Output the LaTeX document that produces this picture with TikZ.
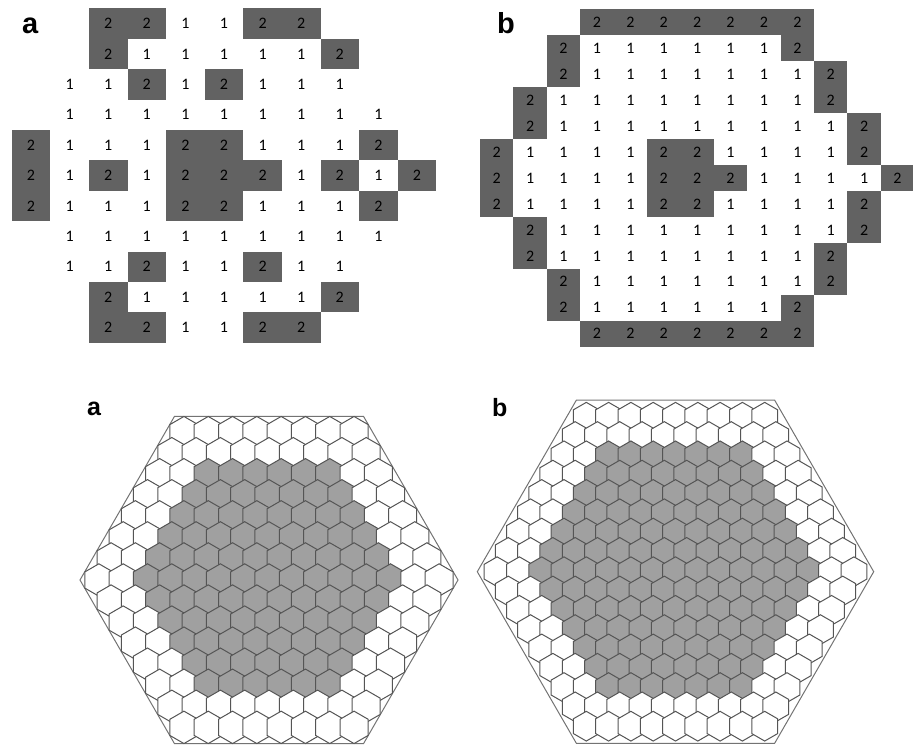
\documentclass[tikz,border=0pt]{standalone}
\usepackage{fontspec}
\setmainfont{Carlito}
\newfontfamily\panelfont{Liberation Sans}
\usetikzlibrary{shapes.geometric,calc}
\definecolor{cellgrey}{RGB}{98,98,98}
\definecolor{hexgrey}{RGB}{160,160,160}
\definecolor{hexline}{RGB}{85,85,85}
\definecolor{rimline}{RGB}{115,115,115}

\begin{document}
\begin{tikzpicture}[x=1pt,y=-1pt,
  c/.style={inner sep=0pt,minimum width=38.6pt,minimum height=30.4pt,font=\fontsize{16}{16}\selectfont},
  cb/.style={c,minimum width=33.4pt,minimum height=25.95pt},
  dk/.style={fill=cellgrey},
  hx/.style={regular polygon,regular polygon sides=6,shape border rotate=30,draw=hexline,line width=1pt,inner sep=0pt},
  rim/.style={regular polygon,regular polygon sides=6,draw=rimline,line width=1pt,inner sep=0pt},
  lab/.style={font=\panelfont\bfseries\fontsize{29}{29}\selectfont,anchor=base west,inner sep=0pt},
  labs/.style={lab,font=\panelfont\bfseries\fontsize{25}{25}\selectfont}]
\useasboundingbox (0,0) rectangle (913,747);
\node[lab] (ta) at (22,33) {a};
\node[lab] (tb) at (497,33) {b};
\foreach \row [count=\i from 0] in {
  {0,0,2,2,1,1,2,2,0,0,0},{0,0,2,1,1,1,1,1,2,0,0},{0,1,1,2,1,2,1,1,1,0,0},
  {0,1,1,1,1,1,1,1,1,1,0},{2,1,1,1,2,2,1,1,1,2,0},{2,1,2,1,2,2,2,1,2,1,2},
  {2,1,1,1,2,2,1,1,1,2,0},{0,1,1,1,1,1,1,1,1,1,0},{0,1,1,2,1,1,2,1,1,0,0},
  {0,0,2,1,1,1,1,1,2,0,0},{0,0,2,2,1,1,2,2,0,0,0}}
  \foreach \v [count=\j from 0] in \row {
    \ifnum\v=2 \node[c,dk] (ga\i-\j) at (31+38.6*\j,23.5+30.4*\i) {2};\fi
    \ifnum\v=1 \node[c] (ga\i-\j) at (31+38.6*\j,23.5+30.4*\i) {1};\fi
  };
\foreach \row [count=\i from 0] in {
  {0,0,0,2,2,2,2,2,2,2,0,0,0},{0,0,2,1,1,1,1,1,1,2,0,0,0},{0,0,2,1,1,1,1,1,1,1,2,0,0},
  {0,2,1,1,1,1,1,1,1,1,2,0,0},{0,2,1,1,1,1,1,1,1,1,1,2,0},{2,1,1,1,1,2,2,1,1,1,1,2,0},
  {2,1,1,1,1,2,2,2,1,1,1,1,2},{2,1,1,1,1,2,2,1,1,1,1,2,0},{0,2,1,1,1,1,1,1,1,1,1,2,0},
  {0,2,1,1,1,1,1,1,1,1,2,0,0},{0,0,2,1,1,1,1,1,1,1,2,0,0},{0,0,2,1,1,1,1,1,1,2,0,0,0},
  {0,0,0,2,2,2,2,2,2,2,0,0,0}}
  \foreach \v [count=\j from 0] in \row {
    \ifnum\v=2 \node[cb,dk] (gb\i-\j) at (496.7+33.4*\j,22.3+25.95*\i) {2};\fi
    \ifnum\v=1 \node[cb] (gb\i-\j) at (496.7+33.4*\j,22.3+25.95*\i) {1};\fi
  };

\node[labs] (ha) at (87,415) {a};
\node[labs] (hb) at (492,416) {b};
\coordinate (ca) at (269,580);
\coordinate (cb) at (675.5,571.7);
\node[rim,minimum size=378pt] (rima) at (ca) {};
\node[rim,minimum size=396.4pt] (rimb) at (cb) {};
\foreach \r in {-7,...,7}{
  \pgfmathtruncatemacro\m{14-abs(\r)}
  \foreach \k in {0,...,\m}{
    \pgfmathtruncatemacro\u{2*\k-\m}
    \pgfmathtruncatemacro\d{abs(\r)+max(0,(abs(\u)-abs(\r))/2)}
    \ifnum\d>5 \def\hc{white}\else\def\hc{hexgrey}\fi
    \node[hx,minimum size=32.4pt,fill=\hc] (fa\r-\k) at ($(ca)+(12.15*\u,21.05*\r)$) {};
  }
}
\foreach \r in {-8,...,8}{
  \pgfmathtruncatemacro\m{16-abs(\r)}
  \foreach \k in {0,...,\m}{
    \pgfmathtruncatemacro\u{2*\k-\m}
    \pgfmathtruncatemacro\d{abs(\r)+max(0,(abs(\u)-abs(\r))/2)}
    \ifnum\d>6 \def\hc{white}\else\def\hc{hexgrey}\fi
    \node[hx,minimum size=29.73pt,fill=\hc] (fb\r-\k) at ($(cb)+(11.15*\u,19.31*\r)$) {};
  }
}
\end{tikzpicture}
\end{document}
